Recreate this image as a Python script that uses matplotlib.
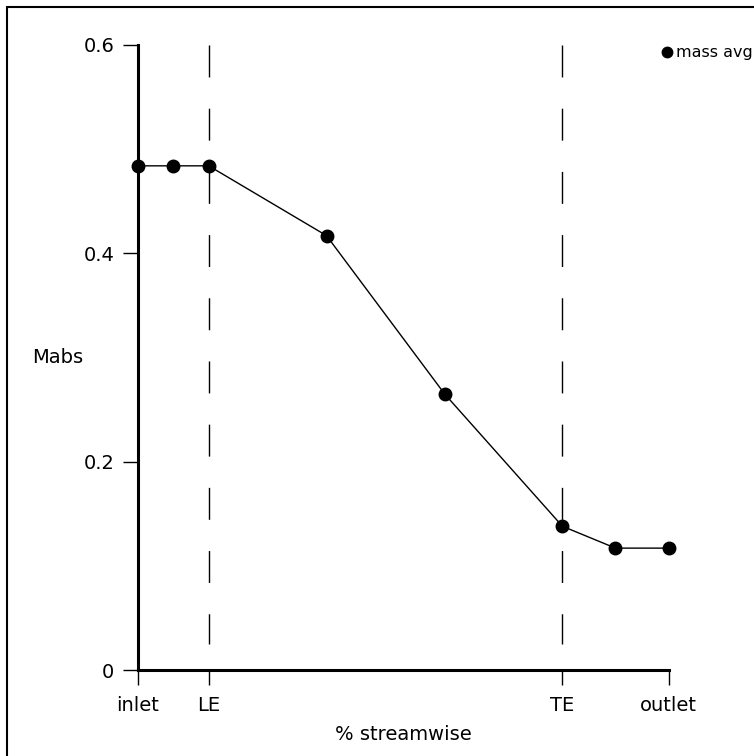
import matplotlib
matplotlib.use("Agg")
import matplotlib.pyplot as plt
from matplotlib.patches import Rectangle
from matplotlib.lines import Line2D

# ************************* Data ******************************
# streamwise position: LE = 0, TE = 1
x_pos = [-0.2, -0.1, 0.0, 0.333, 0.667, 1.0, 1.15, 1.3]
mabs = [0.484, 0.484, 0.484, 0.417, 0.265, 0.138, 0.117, 0.117]

x_ticks = [-0.2, 0.0, 1.0, 1.3]
x_tick_labels = ["inlet", "LE", "TE", "outlet"]
y_ticks = [0, 0.2, 0.4, 0.6]
y_tick_labels = ["0", "0.2", "0.4", "0.6"]
series_name = "mass avg"

# ************************* Figure ******************************
fig = plt.figure(figsize=(7.54, 7.56), dpi=100)
ax = fig.add_axes([138 / 754, 1 - 670 / 756, 530.5 / 754, 625 / 756])

# outer frame, only left and top edges fall inside the picture
fig.add_artist(Rectangle((7 / 754, -0.5), 2.0, 1.5 - 7 / 756,
                         transform=fig.transFigure, fill=False,
                         edgecolor="black", linewidth=1.5))

# dashed lines at leading and trailing edge
for xv in [0.0, 1.0]:
    ax.plot([xv, xv], [0.6, 0.025], color="black", linewidth=1.0,
            linestyle=(0, (23, 22.5)), zorder=1)

ax.plot(x_pos, mabs, color="black", linewidth=1.0, marker="o",
        markersize=9, markerfacecolor="black", clip_on=False, zorder=3)

ax.set_xlim(-0.2, 1.3)
ax.set_ylim(0, 0.6)
ax.spines["top"].set_visible(False)
ax.spines["right"].set_visible(False)
ax.spines["left"].set_linewidth(2.2)
ax.spines["bottom"].set_linewidth(2.2)

ax.set_xticks(x_ticks)
ax.set_xticklabels(x_tick_labels)
ax.set_yticks(y_ticks)
ax.set_yticklabels(y_tick_labels)
ax.tick_params(axis="both", direction="out", length=11, width=1.0,
               labelsize=14, pad=6, color="black")
ax.tick_params(axis="x", pad=8)

ax.set_xlabel("% streamwise", fontsize=14)
ax.xaxis.set_label_coords(0.5, -0.088)
ax.set_ylabel("Mabs", fontsize=14, rotation=0, ha="center", va="center")
ax.yaxis.set_label_coords(-0.151, 0.5)

# legend entry in the top right corner, clipped by the picture edge
fig.add_artist(Line2D([667 / 754], [1 - 52 / 756], marker="o",
                      markersize=7.5, color="black",
                      transform=fig.transFigure))
fig.text(676 / 754, 1 - 53 / 756, series_name, fontsize=11.5,
         va="center", ha="left")

fig.savefig("out.png", dpi=100)
